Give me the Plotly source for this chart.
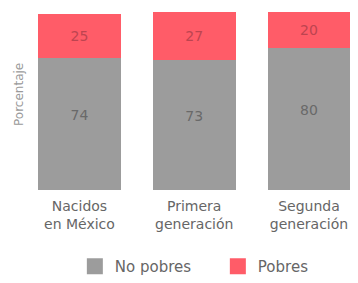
import plotly.graph_objects as go

categories = ["Nacidos<br>en México", "Primera<br>generación", "Segunda<br>generación"]
no_pobres = [74, 73, 80]
pobres = [25, 27, 20]
series_names = ["No pobres", "Pobres"]
y_title = "Porcentaje"

x_pos = list(range(len(categories)))
font_fam = "DejaVu Sans, Verdana, sans-serif"
gray = "#9c9c9c"
red = "#ff5c68"

fig = go.Figure()
fig.add_trace(go.Bar(
    x=x_pos, y=no_pobres, name=series_names[0], width=0.723, showlegend=False,
    marker=dict(color=gray, line=dict(width=0)),
    text=[f"{v}<br> " for v in no_pobres], textposition="inside",
    insidetextanchor="middle",
    textfont=dict(family=font_fam, size=14, color="#696969"),
))
fig.add_trace(go.Bar(
    x=x_pos, y=pobres, name=series_names[1], width=0.723, showlegend=False,
    marker=dict(color=red, line=dict(width=0)),
    text=pobres, textposition="inside", insidetextanchor="middle",
    textfont=dict(family=font_fam, size=14, color="#bd4450"),
))
# legend entries with larger square swatches
for name, col in zip(series_names, [gray, red]):
    fig.add_trace(go.Scatter(
        x=[None], y=[None], mode="markers", name=name,
        marker=dict(symbol="square", size=16, color=col),
    ))

fig.update_layout(
    barmode="stack",
    width=350, height=275, autosize=False,
    margin=dict(l=22, r=0, t=4, b=93, autoexpand=False),
    paper_bgcolor="white", plot_bgcolor="white",
    font=dict(family=font_fam, color="#666666"),
    xaxis=dict(range=[-0.431, 2.427], tickvals=x_pos, ticktext=categories,
               showgrid=False, zeroline=False, showline=False, ticks="",
               automargin=False, ticklabelstandoff=6,
               tickfont=dict(size=14, color="#666666")),
    yaxis=dict(range=[0, 100], showticklabels=False, showgrid=False,
               zeroline=False, showline=False, ticks="", automargin=False),
    showlegend=True,
    legend=dict(orientation="h", xref="container", yref="container",
                x=0.191, xanchor="left", y=0.0, yanchor="bottom",
                font=dict(size=15, color="#666666"), entrywidth=98,
                itemsizing="trace",
                traceorder="normal", bgcolor="rgba(0,0,0,0)"),
    annotations=[dict(text=y_title, xref="paper", yref="paper",
                      x=-0.0335, y=0.534, xanchor="center", yanchor="middle",
                      textangle=-90, showarrow=False,
                      font=dict(size=12, color="#9a9a9a"))],
)

fig.write_html("out.html", config={"responsive": False})
